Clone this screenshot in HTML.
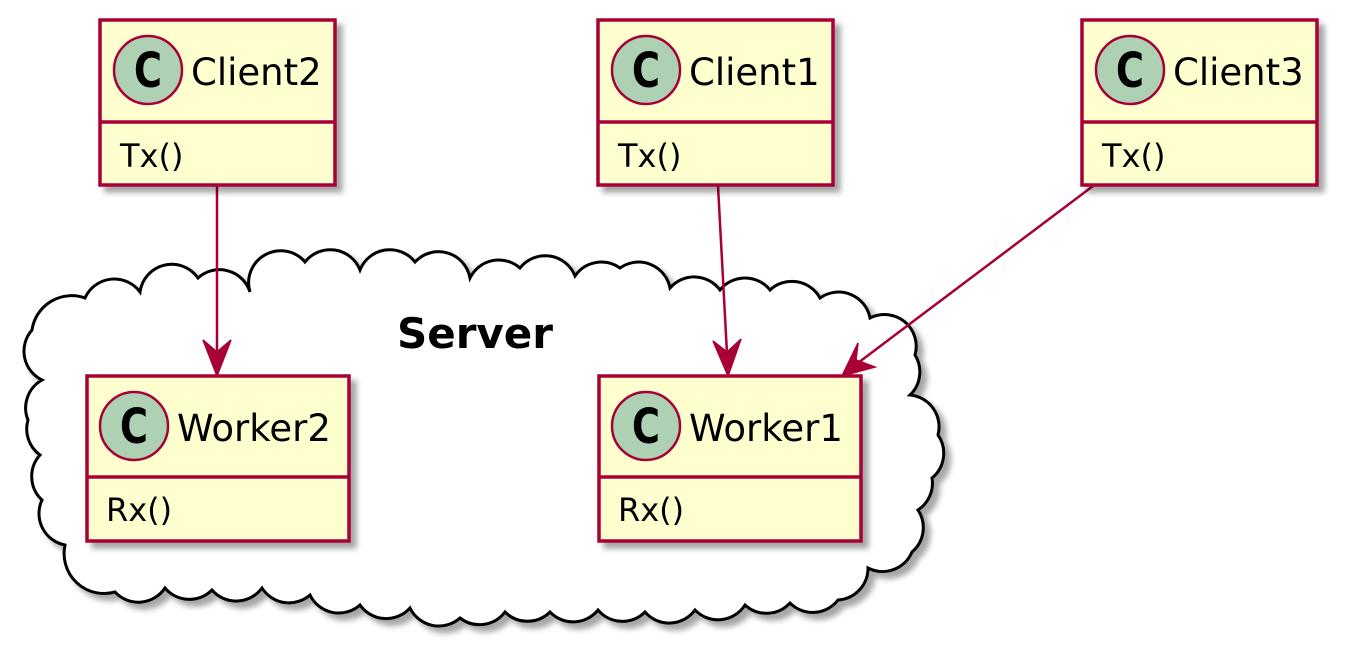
<!DOCTYPE html>
<html><head><meta charset="utf-8"><style>html,body{margin:0;padding:0;background:#fff}svg{display:block}</style></head>
<body>
<svg width="1357" height="653" viewBox="0 0 1357 653" xmlns="http://www.w3.org/2000/svg">
<defs>
<filter id="sh" x="-10%" y="-10%" width="130%" height="130%">
<feGaussianBlur in="SourceAlpha" stdDeviation="3"/>
<feOffset dx="6" dy="6" result="b"/>
<feComponentTransfer><feFuncA type="linear" slope="0.35"/></feComponentTransfer>
<feMerge><feMergeNode/><feMergeNode in="SourceGraphic"/></feMerge>
</filter>
</defs>
<g font-family="'DejaVu Sans', 'Liberation Sans', sans-serif">
<!-- cloud -->
<path filter="url(#sh)" fill="#fff" stroke="#000" stroke-width="3" d="M85,298
A32,32 0 0 1 140,292 A32,32 0 0 1 198,278 A32,32 0 0 1 250,292 A32,32 0 0 1 305,262 A32,32 0 0 1 360,270 A32,32 0 0 1 415,262 A32,32 0 0 1 470,278 A32,32 0 0 1 520,268 A32,32 0 0 1 575,276 A32,32 0 0 1 620,268 A32,32 0 0 1 670,288 A32,32 0 0 1 720,290 A32,32 0 0 1 770,290 A32,32 0 0 1 820,298 A32,32 0 0 1 870,318 A32,32 0 0 1 905,322
A32,32 0 0 1 915,355 A32,32 0 0 1 910,395 A32,32 0 0 1 938,435 A32,32 0 0 1 932,478 A32,32 0 0 1 918,510 A32,32 0 0 1 912,552 A32,32 0 0 1 868,568
A32,32 0 0 1 838,600 A32,32 0 0 1 790,603 A32,32 0 0 1 745,605 A32,32 0 0 1 695,610 A32,32 0 0 1 645,612 A32,32 0 0 1 598,610 A32,32 0 0 1 550,612 A32,32 0 0 1 505,612 A32,32 0 0 1 460,618 A32,32 0 0 1 410,608 A32,32 0 0 1 360,605 A32,32 0 0 1 310,595 A32,32 0 0 1 262,588 A32,32 0 0 1 212,590 A32,32 0 0 1 165,588 A32,32 0 0 1 115,592 A40,40 0 0 1 65,545
A32,32 0 0 1 42,500 A32,32 0 0 1 40,455 A32,32 0 0 1 28,420 A32,32 0 0 1 42,380 A32,32 0 0 1 32,330 A40,40 0 0 1 85,298 Z"/>
<text x="475" y="348" text-anchor="middle" font-size="42" font-weight="bold">Server</text>

<!-- arrows -->
<g stroke="#A80036" stroke-width="2.5" fill="#A80036">
<line x1="217" y1="186" x2="217" y2="372"/>
<line x1="718" y1="186" x2="728" y2="372"/>
<line x1="1093" y1="186" x2="846" y2="372"/>
</g>
<g fill="#A80036" stroke="#A80036" stroke-width="1.5">
<path d="M217,376 L203,340 L217,352 L231,340 Z"/>
<path d="M728,376 L713,341 L727,352 L741,339 Z"/>
<path d="M842,376 L858,343 L856,360 L875,367 Z"/>
</g>

<!-- Client2 -->
<g filter="url(#sh)"><rect x="100" y="20" width="235" height="165" fill="#FEFECE" stroke="#A80036" stroke-width="3.5"/></g>
<line x1="100" y1="122" x2="335" y2="122" stroke="#A80036" stroke-width="3.5"/>
<circle cx="148" cy="70" r="34" fill="#ADD1B2" stroke="#A80036" stroke-width="2.5"/>
<text transform="translate(148,87) scale(0.8,1)" text-anchor="middle" font-size="48" font-weight="bold">C</text>
<text x="191" y="85" font-size="37">Client2</text>
<text x="120" y="167" font-size="32">Tx()</text>
<!-- Client1 -->
<g filter="url(#sh)"><rect x="598" y="20" width="235" height="165" fill="#FEFECE" stroke="#A80036" stroke-width="3.5"/></g>
<line x1="598" y1="122" x2="833" y2="122" stroke="#A80036" stroke-width="3.5"/>
<circle cx="646" cy="70" r="34" fill="#ADD1B2" stroke="#A80036" stroke-width="2.5"/>
<text transform="translate(646,87) scale(0.8,1)" text-anchor="middle" font-size="48" font-weight="bold">C</text>
<text x="689" y="85" font-size="37">Client1</text>
<text x="618" y="167" font-size="32">Tx()</text>
<!-- Client3 -->
<g filter="url(#sh)"><rect x="1082" y="20" width="235" height="165" fill="#FEFECE" stroke="#A80036" stroke-width="3.5"/></g>
<line x1="1082" y1="122" x2="1317" y2="122" stroke="#A80036" stroke-width="3.5"/>
<circle cx="1130" cy="70" r="34" fill="#ADD1B2" stroke="#A80036" stroke-width="2.5"/>
<text transform="translate(1130,87) scale(0.8,1)" text-anchor="middle" font-size="48" font-weight="bold">C</text>
<text x="1173" y="85" font-size="37">Client3</text>
<text x="1102" y="167" font-size="32">Tx()</text>
<!-- Worker2 -->
<g filter="url(#sh)"><rect x="87" y="376" width="262" height="165" fill="#FEFECE" stroke="#A80036" stroke-width="3.5"/></g>
<line x1="87" y1="477" x2="349" y2="477" stroke="#A80036" stroke-width="3.5"/>
<circle cx="134" cy="426" r="34" fill="#ADD1B2" stroke="#A80036" stroke-width="2.5"/>
<text transform="translate(134,443) scale(0.8,1)" text-anchor="middle" font-size="48" font-weight="bold">C</text>
<text x="177" y="441" font-size="37">Worker2</text>
<text x="106" y="521" font-size="32">Rx()</text>
<!-- Worker1 -->
<g filter="url(#sh)"><rect x="599" y="376" width="262" height="165" fill="#FEFECE" stroke="#A80036" stroke-width="3.5"/></g>
<line x1="599" y1="477" x2="861" y2="477" stroke="#A80036" stroke-width="3.5"/>
<circle cx="646" cy="426" r="34" fill="#ADD1B2" stroke="#A80036" stroke-width="2.5"/>
<text transform="translate(646,443) scale(0.8,1)" text-anchor="middle" font-size="48" font-weight="bold">C</text>
<text x="689" y="441" font-size="37">Worker1</text>
<text x="618" y="521" font-size="32">Rx()</text>
</g>
</svg>
</body></html>
